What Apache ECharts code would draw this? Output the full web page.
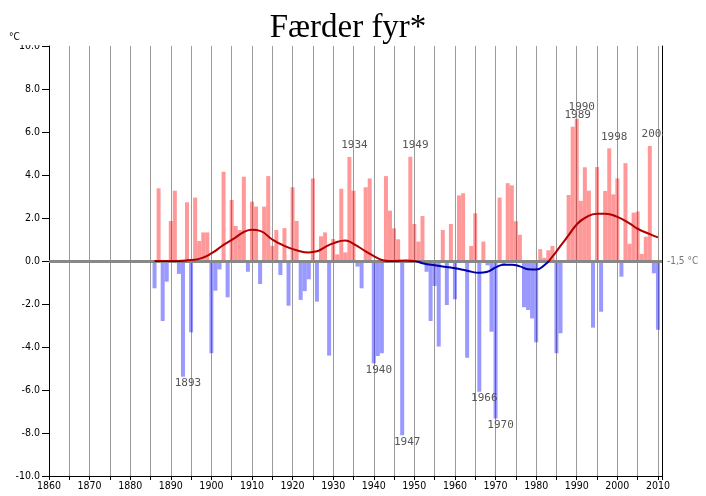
<!DOCTYPE html>
<html>
<head>
<meta charset="utf-8">
<script src="https://cdn.jsdelivr.net/npm/echarts@6.0.0/dist/echarts.min.js"></script>
<style>
html, body { margin: 0; padding: 0; background: #fff; }
#chart { width: 706px; height: 496px; }
</style>
</head>
<body>
<div id="chart"></div>
<script>
// yearly anomalies, first bar is 1886
var firstYear = 1886;
var anomalies = [
    -1.27, 3.38, -2.79, -0.96, 1.86, 3.27, -0.60, -5.38, 2.73, -3.32,   // 1886-1895
    2.95, 0.93, 1.33, 1.33, -4.29, -1.38, -0.39, 4.15, -1.69, 2.84,     // 1896-1905
    1.63, 1.44, 3.92, -0.50, 2.76, 2.53, -1.07, 2.53, 3.95, 0.70,       // 1906-1915
    1.44, -0.65, 1.53, -2.08, 3.43, 1.86, -1.81, -1.40, -0.85, 3.84,    // 1916-1925
    -1.89, 1.15, 1.33, -4.40, 1.02, 0.31, 3.36, 0.40, 4.84, 3.27,       // 1926-1935
    -0.26, -1.27, 3.43, 3.84, -4.76, -4.42, -4.29, 3.95, 2.34, 1.52,    // 1936-1945
    1.01, -8.10, 0.00, 4.85, 1.72, 0.90, 2.09, -0.50, -2.79, -1.16,     // 1946-1955
    -3.98, 1.44, -2.05, 1.72, -1.78, 3.05, 3.15, -4.50, 0.70, 2.22,     // 1956-1965
    -6.08, 0.90, -0.20, -3.29, -7.32, 2.95, -0.20, 3.62, 3.52, 1.85,    // 1966-1975
    1.22, -2.15, -2.28, -2.67, -3.78, 0.55, 0.15, 0.50, 0.70, -4.29,    // 1976-1985
    -3.36, 0.00, 3.07, 6.25, 6.62, 2.80, 4.36, 3.27, -3.10, 4.37,       // 1986-1995
    -2.36, 3.26, 5.24, 3.10, 3.84, -0.73, 4.55, 0.80, 2.25, 2.30,       // 1996-2005
    0.33, 1.13, 5.35, -0.57, -3.20                                      // 2006-2010
];
var labelYears = [1893, 1934, 1940, 1947, 1949, 1966, 1970, 1989, 1990, 1998, 2008];

// smoothed curve
var smoothYears = [1886, 1890, 1894, 1897, 1900, 1903, 1906, 1908, 1910, 1912, 1915, 1918, 1921, 1924, 1926,
    1928, 1930, 1933, 1935, 1938, 1940, 1942, 1944, 1948, 1950, 1952, 1955, 1958, 1960, 1963, 1966, 1968,
    1970, 1972, 1974, 1976, 1978, 1980, 1982, 1984, 1986, 1988, 1990, 1992, 1995, 1997, 2000, 2003, 2005, 2008, 2010];
var smoothValues = [0.0, 0.0, 0.03, 0.1, 0.35, 0.75, 1.1, 1.35, 1.45, 1.4, 1.0, 0.7, 0.5, 0.4, 0.45,
    0.65, 0.82, 0.95, 0.8, 0.45, 0.23, 0.05, 0.0, 0.02, 0.0, -0.1, -0.2, -0.28, -0.34, -0.45, -0.55, -0.5,
    -0.3, -0.17, -0.17, -0.25, -0.38, -0.4, -0.2, 0.2, 0.7, 1.2, 1.7, 2.0, 2.2, 2.2, 2.05, 1.75, 1.5, 1.25, 1.1];

var xTicks = { min: 1860, max: 2011, step: 5 };
var yTicks = { min: -10, max: 10, step: 2 };

var axisFont = '"DejaVu Sans Condensed", "DejaVu Sans", sans-serif';
var gridTop = 46, gridBottom = 20, chartH = 496;

var barData = anomalies.map(function (v, i) {
    var year = firstYear + i;
    var item = {
        value: [year, v],
        itemStyle: { color: v >= 0 ? 'rgba(255,0,0,0.4)' : 'rgba(0,0,255,0.4)' }
    };
    if (labelYears.indexOf(year) >= 0) {
        item.label = {
            show: true,
            position: v >= 0 ? 'top' : 'bottom',
            distance: v >= 0 ? 6 : 1,
            offset: [5, 0],
            formatter: String(year),
            color: '#555',
            fontSize: 11,
            fontFamily: '"DejaVu Sans Mono", monospace'
        };
    }
    return item;
});

var smoothData = smoothYears.map(function (y, i) { return [y, smoothValues[i]]; });

// red above the zero line, blue below it (zero sits at the middle of the grid)
var zeroFrac = yTicks.max / (yTicks.max - yTicks.min);
var lineColor = {
    type: 'linear', global: true,
    x: 0, y: gridTop, x2: 0, y2: chartH - gridBottom,
    colorStops: [
        { offset: 0, color: '#b00000' },
        { offset: zeroFrac, color: '#b00000' },
        { offset: zeroFrac, color: '#0000a8' },
        { offset: 1, color: '#0000a8' }
    ]
};

var chart = echarts.init(document.getElementById('chart'));

var option = {
    animation: false,
    backgroundColor: '#fff',
    grid: { left: 49, right: 44, top: gridTop, bottom: gridBottom },
    xAxis: {
        type: 'value',
        min: xTicks.min,
        max: xTicks.max,
        interval: xTicks.step,
        axisLine: { show: true, onZero: false, lineStyle: { color: '#000', width: 1 } },
        axisTick: { show: true, length: 4, lineStyle: { color: '#000' } },
        axisLabel: {
            color: '#000',
            fontSize: 10.5,
            fontFamily: axisFont,
            margin: 5,
            formatter: function (v) { return v % 10 === 0 ? String(v) : ''; }
        },
        splitLine: { show: true, lineStyle: { color: '#9a9a9a', width: 1 } }
    },
    yAxis: [
        {
            type: 'value',
            min: yTicks.min,
            max: yTicks.max,
            interval: yTicks.step,
            axisLine: { show: true, onZero: false, lineStyle: { color: '#000' } },
            axisTick: { show: true, length: 7, lineStyle: { color: '#000' } },
            axisLabel: {
                color: '#000',
                fontSize: 10.5,
                fontFamily: axisFont,
                margin: 9,
                formatter: function (v) { return v.toFixed(1); }
            },
            splitLine: { show: false }
        },
        {
            type: 'value',
            position: 'right',
            min: yTicks.min,
            max: yTicks.max,
            interval: yTicks.step,
            axisLine: { show: true, onZero: false, lineStyle: { color: '#000' } },
            axisTick: { show: false },
            axisLabel: { show: false },
            splitLine: { show: false }
        }
    ],
    series: [
        {
            type: 'bar',
            barWidth: 4,
            data: barData,
            markLine: {
                silent: true,
                symbol: 'none',
                data: [{ yAxis: 0 }],
                lineStyle: { color: '#878787', width: 3, type: 'solid' },
                label: {
                    position: 'end',
                    formatter: '-1,5 °C',
                    color: '#777',
                    fontSize: 10,
                    fontFamily: axisFont,
                    distance: 5
                }
            }
        },
        {
            type: 'line',
            data: smoothData,
            smooth: true,
            symbol: 'none',
            lineStyle: { width: 2, color: lineColor },
            z: 5
        }
    ],
    graphic: [
        // title band hides the upper half of the top label like the original
        { type: 'rect', z: 100, shape: { x: 0, y: 0, width: 706, height: 45 }, style: { fill: '#fff' } },
        { type: 'rect', z: 100, shape: { x: 663, y: 122, width: 43, height: 22 }, style: { fill: '#fff' } },
        {
            type: 'text', z: 101,
            style: {
                text: 'Færder fyr*', x: 348, y: 28,
                textAlign: 'center', textVerticalAlign: 'middle',
                font: '33px "Liberation Serif", "Times New Roman", serif',
                fill: '#000'
            }
        },
        {
            type: 'text', z: 101,
            style: {
                text: '°C', x: 9, y: 37,
                textVerticalAlign: 'middle',
                font: '10px ' + axisFont,
                fill: '#000'
            }
        }
    ]
};
chart.setOption(option);
</script>
</body>
</html>
